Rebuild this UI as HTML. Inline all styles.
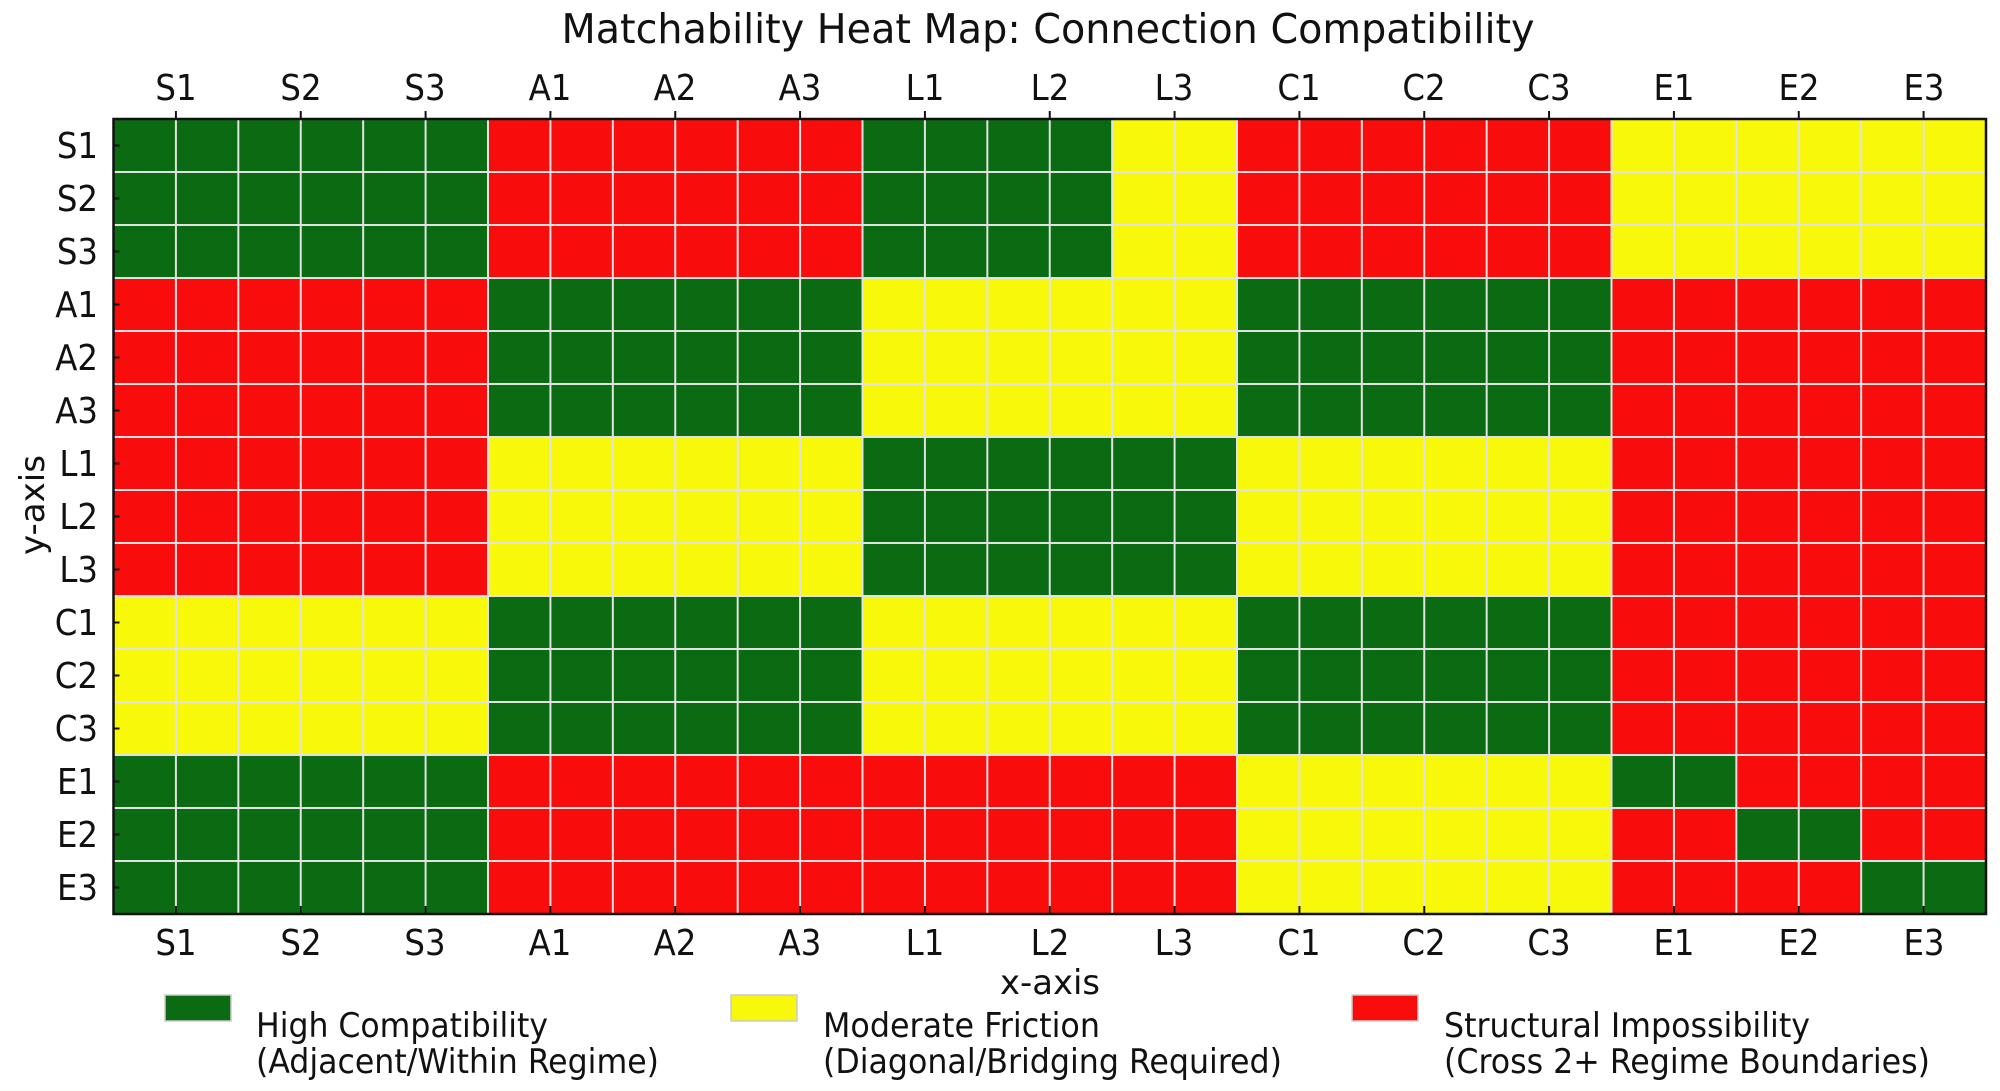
<!DOCTYPE html>
<html><head><meta charset="utf-8"><style>
html,body{margin:0;padding:0;background:#fff;}
svg{display:block;font-family:"DejaVu Sans Condensed","DejaVu Sans","Liberation Sans",sans-serif;font-stretch:condensed;}
</style></head><body>
<svg id="s" width="2000" height="1091" viewBox="0 0 2000 1091" xmlns="http://www.w3.org/2000/svg">
<rect width="2000" height="1091" fill="#fff"/>
<text x="1048" y="43" font-size="41" text-anchor="middle" fill="#111" textLength="973" lengthAdjust="spacingAndGlyphs">Matchability Heat Map: Connection Compatibility</text>
<g id="cells"></g>
<g id="grid" stroke="#e2e2e2" stroke-width="2"></g>
<rect x="113.5" y="119" width="1872.5" height="795" fill="none" stroke="#111" stroke-width="2.5"/>
<g id="ticks" stroke="#111" stroke-width="2"></g>
<g font-size="36" fill="#111" text-anchor="middle">
<text x="176" y="100">S1</text><text x="301" y="100">S2</text><text x="425" y="100">S3</text>
<text x="550" y="100">A1</text><text x="675" y="100">A2</text><text x="800" y="100">A3</text>
<text x="925" y="100">L1</text><text x="1050" y="100">L2</text><text x="1174" y="100">L3</text>
<text x="1299" y="100">C1</text><text x="1424" y="100">C2</text><text x="1549" y="100">C3</text>
<text x="1674" y="100">E1</text><text x="1799" y="100">E2</text><text x="1924" y="100">E3</text>
</g>
<g font-size="36" fill="#111" text-anchor="middle">
<text x="176" y="955">S1</text><text x="301" y="955">S2</text><text x="425" y="955">S3</text>
<text x="550" y="955">A1</text><text x="675" y="955">A2</text><text x="800" y="955">A3</text>
<text x="925" y="955">L1</text><text x="1050" y="955">L2</text><text x="1174" y="955">L3</text>
<text x="1299" y="955">C1</text><text x="1424" y="955">C2</text><text x="1549" y="955">C3</text>
<text x="1674" y="955">E1</text><text x="1799" y="955">E2</text><text x="1924" y="955">E3</text>
</g>
<g font-size="36" fill="#111" text-anchor="end">
<text x="98" y="158">S1</text><text x="98" y="211">S2</text><text x="98" y="264">S3</text>
<text x="98" y="317">A1</text><text x="98" y="370">A2</text><text x="98" y="423">A3</text>
<text x="98" y="476">L1</text><text x="98" y="529">L2</text><text x="98" y="582">L3</text>
<text x="98" y="635">C1</text><text x="98" y="688">C2</text><text x="98" y="741">C3</text>
<text x="98" y="794">E1</text><text x="98" y="847">E2</text><text x="98" y="900">E3</text>
</g>
<text x="1050" y="994" font-size="34" text-anchor="middle" fill="#111" textLength="100" lengthAdjust="spacingAndGlyphs">x-axis</text>
<text transform="translate(44,505) rotate(-90)" font-size="34" text-anchor="middle" fill="#111" textLength="100" lengthAdjust="spacingAndGlyphs">y-axis</text>
<rect x="165" y="995" width="66" height="26" fill="#0b6b12" stroke="#ccc" stroke-width="1.5"/>
<rect x="731" y="995" width="66" height="26" fill="#f8f80a" stroke="#ccc" stroke-width="1.5"/>
<rect x="1352" y="995" width="66" height="26" fill="#f80c0c" stroke="#ccc" stroke-width="1.5"/>
<g font-size="34" fill="#111" lengthAdjust="spacingAndGlyphs">
<text x="256" y="1037" textLength="292" lengthAdjust="spacingAndGlyphs">High Compatibility</text>
<text x="256" y="1073" textLength="403" lengthAdjust="spacingAndGlyphs">(Adjacent/Within Regime)</text>
<text x="823" y="1037" textLength="277" lengthAdjust="spacingAndGlyphs">Moderate Friction</text>
<text x="823" y="1073" textLength="459" lengthAdjust="spacingAndGlyphs">(Diagonal/Bridging Required)</text>
<text x="1444" y="1037" textLength="366" lengthAdjust="spacingAndGlyphs">Structural Impossibility</text>
<text x="1444" y="1073" textLength="486" lengthAdjust="spacingAndGlyphs">(Cross 2+ Regime Boundaries)</text>
</g>
</svg>
<script>
(function(){
var NS="http://www.w3.org/2000/svg";
var G="#0b6b12",Y="#f8f80a",R="#f80c0c";
var X0=113.5,Y0=119,CW=1872.5/15,RH=795/15;
var M=[["G","R","G","R","Y"],["R","G","Y","G","R"],["R","Y","G","Y","R"],["Y","G","Y","G","R"],["G","R","R","Y","X"]];
var col={G:G,Y:Y,R:R};
var cells=document.getElementById("cells");
for(var r=0;r<15;r++)for(var c=0;c<15;c++){
 var g=M[Math.floor(r/3)][Math.floor(c/3)];
 var f;
 if(g==="X"){f=(r===c)?G:R;}
 else f=col[g];
 if(r<3&&c===8)f=Y;
 var e=document.createElementNS(NS,"rect");
 e.setAttribute("x",X0+c*CW);e.setAttribute("y",Y0+r*RH);
 e.setAttribute("width",CW+0.6);e.setAttribute("height",RH+0.6);e.setAttribute("fill",f);
 cells.appendChild(e);
}
var grid=document.getElementById("grid");
for(var i=1;i<30;i++){var x=X0+i*CW/2;var l=document.createElementNS(NS,"line");
 l.setAttribute("x1",x);l.setAttribute("x2",x);l.setAttribute("y1",Y0);l.setAttribute("y2",Y0+795);grid.appendChild(l);}
for(var j=1;j<15;j++){var y=Y0+j*RH;var l=document.createElementNS(NS,"line");
 l.setAttribute("x1",X0);l.setAttribute("x2",X0+1872.5);l.setAttribute("y1",y);l.setAttribute("y2",y);grid.appendChild(l);}
var t=document.getElementById("ticks");
function ln(a,b,c,d){var l=document.createElementNS(NS,"line");l.setAttribute("x1",a);l.setAttribute("y1",b);l.setAttribute("x2",c);l.setAttribute("y2",d);t.appendChild(l);}
for(var k=0;k<15;k++){var x=X0+(k+0.5)*CW;ln(x,Y0-8,x,Y0);ln(x,Y0+795,x,Y0+787);
 var y=Y0+(k+0.5)*RH;ln(X0,y,X0+6,y);}
})();
</script>
</body></html>
